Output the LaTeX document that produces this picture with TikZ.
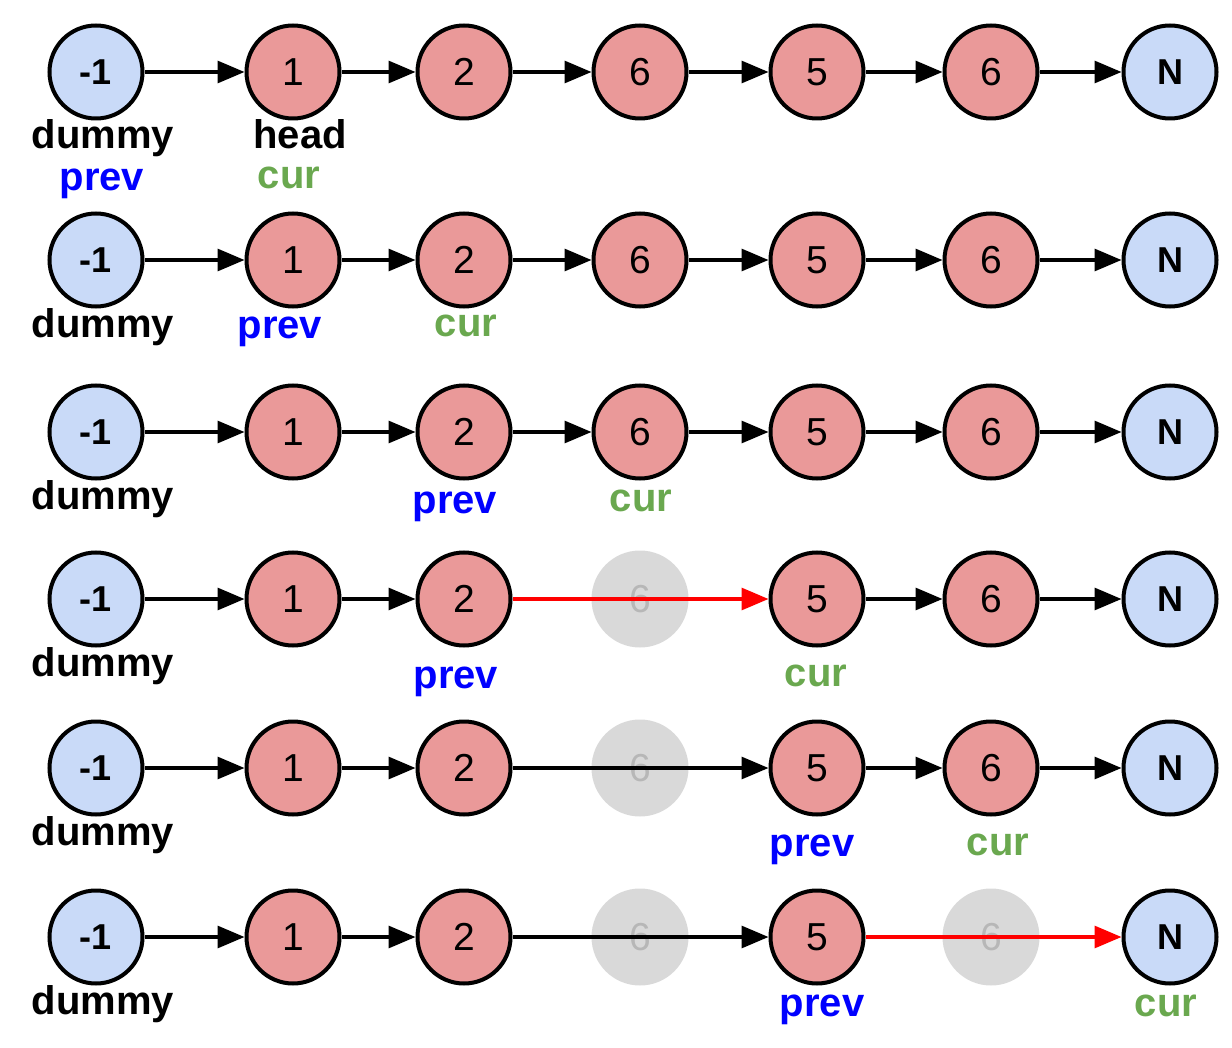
\documentclass[tikz,border=0pt]{standalone}
\usepackage{fontspec}
\setmainfont{Liberation Sans}
\usetikzlibrary{arrows.meta}

\definecolor{endblue}{HTML}{C9DAF8}
\definecolor{valred}{HTML}{EA9999}
\definecolor{gonegray}{HTML}{D9D9D9}
\definecolor{gonetext}{HTML}{B7B7B7}
\definecolor{curgreen}{HTML}{6AA84F}
\definecolor{prevblue}{HTML}{0000FF}
\definecolor{cutred}{HTML}{FF0000}

\begin{document}
\begin{tikzpicture}[
  x=0.5pt, y=-0.5pt,
  >={Triangle[length=13.5pt,width=11pt]},
  endnode/.style={circle, draw, line width=2pt, fill=endblue, minimum size=46.5pt, inner sep=0pt, font=\fontsize{18}{22}\selectfont\bfseries},
  valnode/.style={circle, draw, line width=2pt, fill=valred, minimum size=46.5pt, inner sep=0pt, font=\fontsize{19.5}{23}\selectfont},
  gonenode/.style={circle, fill=gonegray, text=gonetext, minimum size=48.5pt, inner sep=0pt, font=\fontsize{19.5}{23}\selectfont},
  link/.style={->, line width=1.6pt},
  cut/.style={->, line width=1.6pt, draw=cutred, fill=cutred},
  lbl/.style={anchor=base, inner sep=0pt, font=\fontsize{20}{24}\selectfont\bfseries},
]
\useasboundingbox (0,0) rectangle (1232,1048);

% --- six snapshots of the list, style of the 4th and 6th node varies
\foreach \r/\y/\sa/\sb in {1/72/valnode/valnode, 2/260/valnode/valnode, 3/432/valnode/valnode,
                           4/599/gonenode/valnode, 5/768/gonenode/valnode, 6/937/gonenode/gonenode} {
  \node[endnode] (n\r0) at (96,\y) {-1};
  \node[valnode] (n\r1) at (293,\y) {1};
  \node[valnode] (n\r2) at (464,\y) {2};
  \node[\sa] (n\r3) at (640,\y) {6};
  \node[valnode] (n\r4) at (817,\y) {5};
  \node[\sb] (n\r5) at (991,\y) {6};
  \node[endnode] (n\r6) at (1170,\y) {N};
  \node[lbl] (dum\r) at (103,\y+77) {dummy};
  \draw[link] (n\r0) -- (n\r1);
  \draw[link] (n\r1) -- (n\r2);
}

% --- untouched links
\foreach \r in {1,2,3} {
  \draw[link] (n\r2) -- (n\r3);
  \draw[link] (n\r3) -- (n\r4);
}
\foreach \r in {1,2,3,4,5} {
  \draw[link] (n\r4) -- (n\r5);
  \draw[link] (n\r5) -- (n\r6);
}

% --- removed nodes are skipped
\draw[cut] (n42) -- (n44);
\draw[link] (n52) -- (n54);
\draw[link] (n62) -- (n64);
\draw[cut] (n64) -- (n66);

% --- pointer labels
\node[lbl] (head1) at (300,149) {head};
\node[lbl, text=prevblue] (prev1) at (102,191) {prev};
\node[lbl, text=curgreen] (cur1) at (289,189) {cur};
\node[lbl, text=prevblue] (prev2) at (280,338) {prev};
\node[lbl, text=curgreen] (cur2) at (466,336) {cur};
\node[lbl, text=prevblue] (prev3) at (455,513) {prev};
\node[lbl, text=curgreen] (cur3) at (641,511) {cur};
\node[lbl, text=prevblue] (prev4) at (456,688) {prev};
\node[lbl, text=curgreen] (cur4) at (816,686) {cur};
\node[lbl, text=prevblue] (prev5) at (812,856) {prev};
\node[lbl, text=curgreen] (cur5) at (998,855) {cur};
\node[lbl, text=prevblue] (prev6) at (822,1016) {prev};
\node[lbl, text=curgreen] (cur6) at (1166,1016) {cur};

\end{tikzpicture}
\end{document}
